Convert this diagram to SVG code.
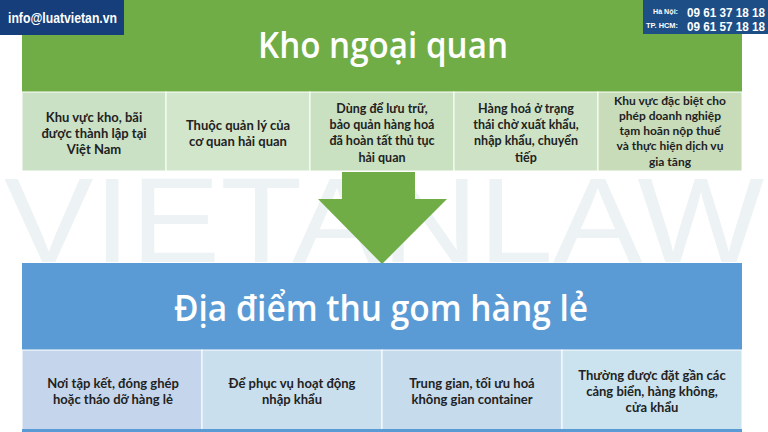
<svg xmlns="http://www.w3.org/2000/svg" width="768" height="432" viewBox="0 0 768 432">
<style>
.title{font-family:"Open Sans","Noto Sans",sans-serif;font-weight:600;fill:#ffffff;text-anchor:middle}
.cell{font-family:Lato,"Open Sans",sans-serif;font-weight:bold;font-size:13px;fill:#222222;text-anchor:middle}
.md{font-size:12.5px}
.sm{font-size:12px}
.hdr{font-family:"Liberation Sans","DejaVu Sans",sans-serif;font-weight:bold;fill:#ffffff}
.wm{font-family:"Liberation Sans","DejaVu Sans",sans-serif;fill:#edf2f4}
.gc{stroke:#ffffff;stroke-width:1}
.bc{stroke:#ffffff;stroke-width:1}
</style>
<rect x="0" y="0" width="768" height="432" fill="#ffffff"/>
<text class="wm" x="4" y="262" font-size="121" textLength="760" lengthAdjust="spacingAndGlyphs">VIETANLAW</text>

<g id="kho-ngoai-quan">
<rect x="22" y="-5" width="720" height="97" fill="#70ad47"/>
<text class="title" x="383" y="58" font-size="36" textLength="250" lengthAdjust="spacingAndGlyphs">Kho ngoại quan</text>
</g>
<g id="kngq-1">
<rect class="gc" x="22" y="92" width="144" height="79" fill="#cae1c5"/>
<text class="cell" x="94" y="122">Khu vực kho, bãi</text>
<text class="cell" x="94" y="138">được thành lập tại</text>
<text class="cell" x="94" y="154">Việt Nam</text>
</g>
<g id="kngq-2">
<rect class="gc" x="166" y="92" width="144" height="79" fill="#d2e6cc"/>
<text class="cell" x="238" y="130">Thuộc quản lý của</text>
<text class="cell" x="238" y="146">cơ quan hải quan</text>
</g>
<g id="kngq-3">
<rect class="gc" x="310" y="92" width="144" height="79" fill="#c9e0c1"/>
<text class="cell md" x="382" y="113">Dùng để lưu trữ,</text>
<text class="cell md" x="382" y="129">bảo quản hàng hoá</text>
<text class="cell md" x="382" y="145">đã hoàn tất thủ tục</text>
<text class="cell md" x="382" y="162">hải quan</text>
</g>
<g id="kngq-4">
<rect class="gc" x="454" y="92" width="144" height="79" fill="#cee3c5"/>
<text class="cell md" x="526" y="113">Hàng hoá ở trạng</text>
<text class="cell md" x="526" y="129">thái chờ xuất khẩu,</text>
<text class="cell md" x="526" y="145">nhập khẩu, chuyển</text>
<text class="cell md" x="526" y="162">tiếp</text>
</g>
<g id="kngq-5">
<rect class="gc" x="598" y="92" width="144" height="79" fill="#c8dcba"/>
<text class="cell sm" x="670" y="105">Khu vực đặc biệt cho</text>
<text class="cell sm" x="670" y="120">phép doanh nghiệp</text>
<text class="cell sm" x="670" y="135">tạm hoãn nộp thuế</text>
<text class="cell sm" x="670" y="150">và thực hiện dịch vụ</text>
<text class="cell sm" x="670" y="165.5">gia tăng</text>
</g>

<g id="connectors">
<polygon points="342,172 415,172 415,199 447,199 382,264 318,199 342,199" fill="#70ad47"/>
</g>

<g id="dia-diem-thu-gom">
<rect x="22" y="263" width="720" height="87" fill="#5b9bd5"/>
<text class="title" x="381" y="321" font-size="36" textLength="414" lengthAdjust="spacingAndGlyphs">Địa điểm thu gom hàng lẻ</text>
</g>
<g id="ddtg-1">
<rect class="bc" x="22" y="350" width="180" height="80" fill="#c5d6ec"/>
<text class="cell" x="113" y="388">Nơi tập kết, đóng ghép</text>
<text class="cell" x="113" y="404">hoặc tháo dỡ hàng lẻ</text>
</g>
<g id="ddtg-2">
<rect class="bc" x="202" y="350" width="180" height="80" fill="#cadfee"/>
<text class="cell" x="292" y="388">Để phục vụ hoạt động</text>
<text class="cell" x="292" y="404">nhập khẩu</text>
</g>
<g id="ddtg-3">
<rect class="bc" x="382" y="350" width="180" height="80" fill="#c6dbec"/>
<text class="cell" x="472" y="388">Trung gian, tối ưu hoá</text>
<text class="cell" x="472" y="404">không gian container</text>
</g>
<g id="ddtg-4">
<rect class="bc" x="562" y="350" width="180" height="80" fill="#cbe3ee"/>
<text class="cell" x="652" y="380">Thường được đặt gần các</text>
<text class="cell" x="652" y="396">cảng biển, hàng không,</text>
<text class="cell" x="652" y="412">cửa khẩu</text>
</g>
<rect x="22" y="429" width="720" height="3" fill="#5b9bd5"/>

<g id="header-left">
<rect x="0" y="0" width="124" height="35" fill="#153e7a"/>
<text class="hdr" x="8" y="23" font-size="15" textLength="109" lengthAdjust="spacingAndGlyphs">info@luatvietan.vn</text>
</g>
<g id="header-right">
<rect x="643" y="0" width="125" height="34" fill="#1d4e86"/>
<text class="hdr" x="653" y="14" font-size="7" textLength="25" lengthAdjust="spacingAndGlyphs">Hà Nội:</text>
<text class="hdr" x="687" y="17" font-size="12" textLength="78" lengthAdjust="spacingAndGlyphs">09 61 37 18 18</text>
<text class="hdr" x="646" y="28" font-size="7" textLength="32" lengthAdjust="spacingAndGlyphs">TP. HCM:</text>
<text class="hdr" x="687" y="31" font-size="12" textLength="78" lengthAdjust="spacingAndGlyphs">09 61 57 18 18</text>
</g>
</svg>
